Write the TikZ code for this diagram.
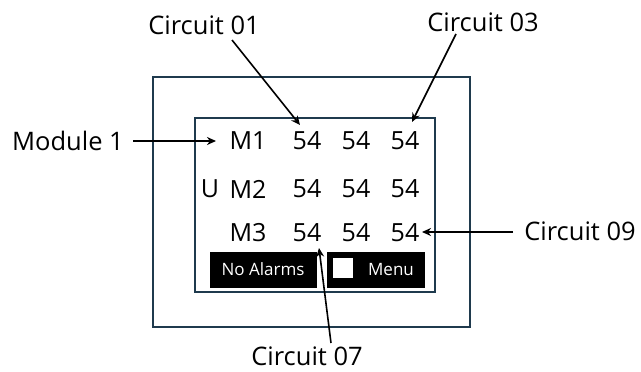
\documentclass[tikz,border=0pt]{standalone}
\usepackage{fontspec}
\setmainfont{Open Sans}
\newfontfamily\btnfont{Open Sans}
\usetikzlibrary{arrows.meta}
\definecolor{frame}{HTML}{1F3A4D}
\begin{document}
\begin{tikzpicture}[x=1pt,y=-1pt,
  lbl/.style={font=\fontsize{25.5}{27}\selectfont, inner sep=0pt, anchor=center},
  val/.style={font=\fontsize{25}{27}\selectfont, inner sep=0pt, anchor=center},
  btn/.style={fill=black, draw=black, inner sep=0pt},
  btntext/.style={font=\btnfont\fontsize{17}{19}\selectfont, text=white, inner sep=0pt},
  arr/.style={line width=1.6pt, -{Stealth[length=9pt,width=8pt]}},
  box/.style={draw=frame, line width=2pt}]
\useasboundingbox (0,0) rectangle (641,372);
% frames
\draw[box] (153,77) rectangle (470,327);
\draw[box] (195,118) rectangle (435,292);
% values
\node[val] (m1) at (248,141) {M1};
\node[val] (m2) at (248,189) {M2};
\node[val] (m3) at (248,233) {M3};
\node[val] (u) at (210,189) {U};
\node[val] (a1) at (307,141) {54};
\node[val] (a2) at (356,141) {54};
\node[val] (a3) at (405,141) {54};
\node[val] (b1) at (307,189) {54};
\node[val] (b2) at (356,189) {54};
\node[val] (b3) at (405,189) {54};
\node[val] (c1) at (307,233) {54};
\node[val] (c2) at (356,233) {54};
\node[val] (c3) at (405,233) {54};
% buttons
\node[btn, minimum width=106pt, minimum height=35pt] (alarm) at (263,269.5) {};
\node[btntext] (alarmt) at (alarm.center) {No Alarms};
\node[btn, minimum width=97pt, minimum height=35pt] (menu) at (375.5,269.5) {};
\node[fill=white, minimum width=20pt, minimum height=20pt, inner sep=0pt] (sq) at (343,268) {};
\node[btntext] (menut) at (391,269.5) {Menu};
% labels
\node[lbl] (lc01) at (204,25) {Circuit 01};
\node[lbl] (lc03) at (483,22) {Circuit 03};
\node[lbl] (lmod) at (68,141) {Module 1};
\node[lbl] (lc09) at (580,231) {Circuit 09};
\node[lbl] (lc07) at (307,356) {Circuit 07};
% arrow ends
\coordinate (t01) at (300,125);
\coordinate (t03) at (412,122);
\coordinate (tmod) at (216,141);
\coordinate (t09) at (422,232);
\coordinate (t07) at (319,248);
\coordinate (s01) at (232,40);
\coordinate (s03) at (456,34);
\coordinate (smod) at (133,141);
\coordinate (s09) at (513,232);
\coordinate (s07) at (331,343);
\draw[arr] (s01) -- (t01);
\draw[arr] (s03) -- (t03);
\draw[arr] (smod) -- (tmod);
\draw[arr] (s09) -- (t09);
\draw[arr] (s07) -- (t07);
\end{tikzpicture}
\end{document}
